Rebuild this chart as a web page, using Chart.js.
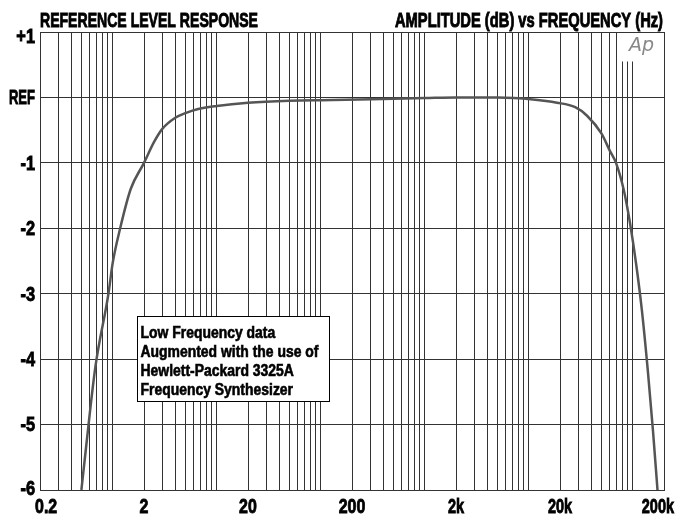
<!DOCTYPE html>
<html>
<head>
<meta charset="utf-8">
<title>Reference Level Response</title>
<script src="https://cdn.jsdelivr.net/npm/chart.js@4.4.1/dist/chart.umd.min.js"></script>
<style>
    html, body { margin: 0; padding: 0; background: #fff; }
    #box { width: 676px; height: 514px; }
</style>
</head>
<body>
<div id="box"><canvas id="chart-resposta" width="676" height="514"></canvas></div>
<script>
// frequencia (Hz) x amplitude (dB)
var frequencias = [0.5, 0.55, 0.68, 0.91, 1.0, 1.18, 1.49, 2.0, 2.5, 3.0, 4, 5, 6.5, 10, 20, 50, 130, 500, 1000, 2000, 5000, 11000, 18700, 28000, 36400, 50000, 60500, 69100, 82500, 94200, 107600, 122900, 140400, 156800, 173200];
var amplitudes = [-6, -5.4, -4.13, -3.0, -2.53, -2.0, -1.4, -1.0, -0.68, -0.48, -0.31, -0.24, -0.18, -0.13, -0.08, -0.05, -0.04, -0.02, -0.01, 0, 0, -0.03, -0.08, -0.15, -0.28, -0.55, -0.82, -1.0, -1.43, -1.92, -2.53, -3.27, -4.21, -5.1, -6];

var xRotulos = [0.2, 2, 20, 200, 2000, 20000, 200000];
var xTextos = ['0.2', '2', '20', '200', '2k', '20k', '200k'];
var yValores = [-6, -5, -4, -3, -2, -1, 0, 1];
var yTextos = ['-6', '-5', '-4', '-3', '-2', '-1', 'REF', '+1'];

var tituloEsq = 'REFERENCE LEVEL RESPONSE';
var tituloDir = 'AMPLITUDE (dB) vs FREQUENCY (Hz)';
var nota = ['Low Frequency data', 'Augmented with the use of', 'Hewlett-Packard 3325A', 'Frequency Synthesizer'];

var fonte = "'Liberation Sans', Arial, sans-serif";

// linhas verticais: 1..9 de cada decada
function gradeLog(min, max) {
    let lista = [];
    let dec = Math.pow(10, Math.floor(Math.log10(min)));
    while (dec <= max) {
        for (let m = 1; m < 10; m++) {
            let v = parseFloat((m * dec).toPrecision(6));
            if (v >= min - 1e-9 && v <= max + 1e-9) lista.push(v);
        }
        dec *= 10;
    }
    return lista;
}
var xGrade = gradeLog(0.2, 200000);

var pontos = frequencias.map(function (f, i) {
    return {x: f, y: amplitudes[i]};
});

// texto estreito e pesado (a fonte original e condensada)
function texto(ctx, t, x, y, fator, align, peso) {
    ctx.save();
    ctx.translate(x, y);
    ctx.scale(fator, 1);
    ctx.textAlign = align;
    ctx.fillText(t, 0, 0);
    if (peso) {
        ctx.strokeStyle = ctx.fillStyle;
        ctx.lineWidth = peso;
        ctx.strokeText(t, 0, 0);
    }
    ctx.restore();
}

var textosPlugin = {
    id: 'textos',
    beforeDatasetsDraw: function (chart) {
        let ctx = chart.ctx;
        let a = chart.chartArea;
        // caixa do logo
        ctx.save();
        ctx.fillStyle = '#fff';
        ctx.fillRect(a.left + 579.5, a.top + 1, a.right - a.left - 580.5, 28.5);
        ctx.restore();
    },
    afterDatasetsDraw: function (chart) {
        let ctx = chart.ctx;
        let a = chart.chartArea;
        ctx.save();
        ctx.fillStyle = '#000';
        ctx.textBaseline = 'alphabetic';
        ctx.font = 'bold 20px ' + fonte;
        let fator = 218 / ctx.measureText(tituloEsq).width;
        texto(ctx, tituloEsq, a.left, 27, fator, 'left', 0.9);
        let fatorDir = 268 / ctx.measureText(tituloDir).width;
        texto(ctx, tituloDir, a.right - 1, 27, fatorDir, 'right', 0.9);

        // rotulos dos eixos
        ctx.font = 'bold 21px ' + fonte;
        let sx = chart.scales.x;
        for (let i = 0; i < xRotulos.length; i++) {
            let f = xTextos[i].indexOf('k') >= 0 ? 0.69 : 0.76;
            let px = sx.getPixelForValue(xRotulos[i]);
            let w = ctx.measureText(xTextos[i]).width * f;
            px = Math.max(px, 35 + w / 2);
            px = Math.min(px, 674 - w / 2);
            texto(ctx, xTextos[i], px, 513, f, 'center', 0.9);
        }
        let sy = chart.scales.y;
        ctx.textBaseline = 'middle';
        for (let i = 0; i < yValores.length; i++) {
            let f = yTextos[i] == 'REF' ? 0.62 : 0.78;
            let py = sy.getPixelForValue(yValores[i]);
            py = Math.min(Math.max(py, a.top + 4), a.bottom - 2);
            texto(ctx, yTextos[i], a.left - 5, py + 1, f, 'right', 0.9);
        }
        ctx.textBaseline = 'alphabetic';

        // logo Ap
        ctx.fillStyle = '#888';
        ctx.font = 'italic 19px ' + "'DejaVu Sans', sans-serif";
        ctx.textAlign = 'left';
        ctx.fillText('Ap', 629, 51);

        // nota
        let x = 137.5, y = 316.5, w = 192, h = 85;
        ctx.fillStyle = '#fff';
        ctx.fillRect(x, y, w, h);
        ctx.strokeStyle = '#000';
        ctx.lineWidth = 1;
        ctx.strokeRect(x, y, w, h);
        ctx.fillStyle = '#000';
        ctx.font = 'bold 16px ' + fonte;
        let fatorNota = 178 / ctx.measureText(nota[1]).width;
        for (let i = 0; i < nota.length; i++) {
            texto(ctx, nota[i], x + 3, y + 21 + i * 19, fatorNota, 'left', 0.6);
        }
        ctx.restore();
    }
};

var ctx = document.getElementById('chart-resposta').getContext('2d');
var config = {
    type: 'line',
    data: {
        datasets: [{
                data: pontos,
                borderColor: '#555',
                borderWidth: 2.5,
                pointRadius: 0,
                cubicInterpolationMode: 'monotone',
                fill: false
            }]
    },
    options: {
        responsive: false,
        animation: false,
        layout: {padding: {top: 32, right: 12, left: 0, bottom: 0}},
        plugins: {
            legend: {display: false},
            tooltip: {enabled: false}
        },
        scales: {
            x: {
                type: 'logarithmic',
                min: 0.2,
                max: 200000,
                afterBuildTicks: function (scale) {
                    scale.ticks = xGrade.map(function (v) {
                        return {value: v};
                    });
                },
                afterFit: function (scale) {
                    scale.height = 24;
                    scale.paddingLeft = 0;
                    scale.paddingRight = 0;
                },
                grid: {color: '#333', drawTicks: false},
                border: {color: '#333'},
                ticks: {display: false, autoSkip: false}
            },
            y: {
                min: -6,
                max: 1,
                afterBuildTicks: function (scale) {
                    scale.ticks = yValores.map(function (v) {
                        return {value: v};
                    });
                },
                afterFit: function (scale) {
                    scale.width = 40;
                },
                grid: {color: '#333', drawTicks: false},
                border: {color: '#333'},
                ticks: {display: false}
            }
        }
    },
    plugins: [textosPlugin]
};
var grafico = new Chart(ctx, config);
</script>
</body>
</html>
